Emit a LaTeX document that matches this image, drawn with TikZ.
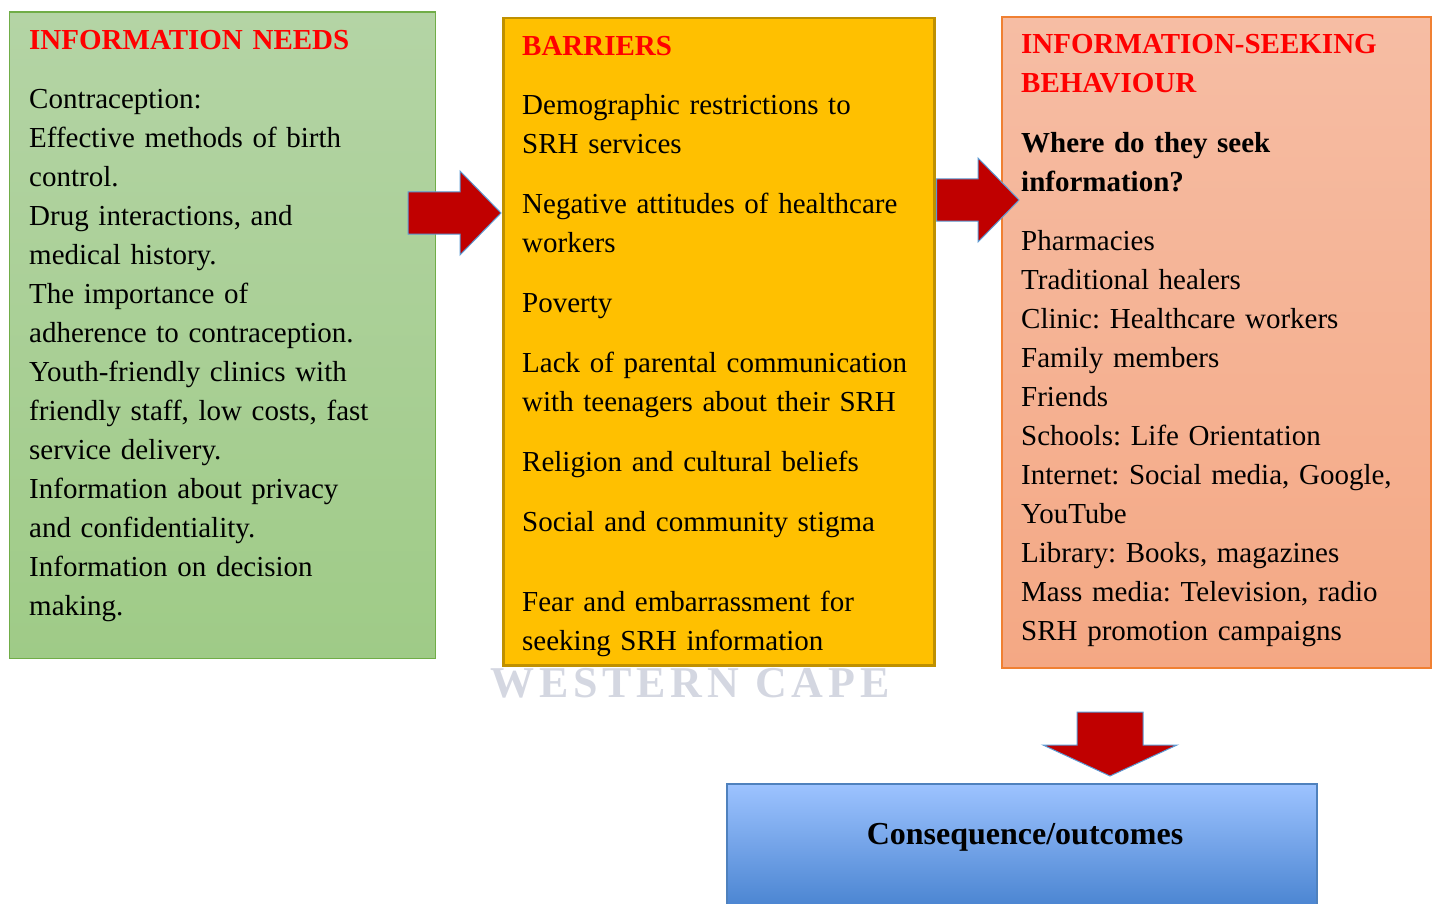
\documentclass[tikz,border=0pt]{standalone}
\usepackage{fontspec}
\setmainfont{Liberation Serif}
\newfontfamily\wmfont[LetterSpace=11]{Liberation Serif}
\usepackage{xcolor}
\usetikzlibrary{positioning, calc}
\definecolor{needgreen}{RGB}{180, 212, 165}
\definecolor{needgreendark}{RGB}{159, 203, 135}
\definecolor{needborder}{RGB}{112, 173, 71}
\definecolor{barrieryellow}{RGB}{255, 192, 0}
\definecolor{barrierborder}{RGB}{191, 144, 0}
\definecolor{seeksalmon}{RGB}{246, 189, 164}
\definecolor{seeksalmondark}{RGB}{244, 168, 132}
\definecolor{seekborder}{RGB}{240, 128, 50}
\definecolor{outcometop}{RGB}{157, 195, 255}
\definecolor{outcomebottom}{RGB}{63, 124, 203}
\definecolor{outcomeborder}{RGB}{79, 129, 189}
\definecolor{arrowred}{RGB}{192, 0, 0}
\definecolor{arrowedge}{RGB}{91, 155, 213}
\definecolor{headred}{RGB}{255, 0, 0}
\definecolor{watermark}{RGB}{212, 215, 225}

% block arrows: #1 = tail point, #2 = tip point
\newcommand{\rightblock}[2]{%
  \draw[blockarrow] ($(#1)+(0,-21)$) -- ($(#2)+(-41,-21)$) -- ($(#2)+(-41,-42)$) -- (#2)
    -- ($(#2)+(-41,42)$) -- ($(#2)+(-41,21)$) -- ($(#1)+(0,21)$) -- cycle;}
\newcommand{\downblock}[2]{%
  \draw[blockarrow] ($(#1)+(-33,0)$) -- ($(#2)+(-33,-31)$) -- ($(#2)+(-67,-31)$) -- (#2)
    -- ($(#2)+(67,-31)$) -- ($(#2)+(33,-31)$) -- ($(#1)+(33,0)$) -- cycle;}

\frenchspacing

\begin{document}
\begin{tikzpicture}[
    x=1pt, y=-1pt,
    box/.style={rectangle, anchor=north west, inner sep=0pt, line width=1.5pt},
    needbox/.style={box, draw=needborder, top color=needgreen, bottom color=needgreendark,
                    minimum width=426pt, minimum height=646pt},
    barrierbox/.style={box, draw=barrierborder, fill=barrieryellow, line width=2.5pt,
                       minimum width=431pt, minimum height=647pt},
    seekbox/.style={box, draw=seekborder, top color=seeksalmon, bottom color=seeksalmondark,
                    line width=2pt, minimum width=429pt, minimum height=651pt},
    outcomebox/.style={box, draw=outcomeborder, top color=outcometop, bottom color=outcomebottom,
                       minimum width=590pt, minimum height=140pt},
    bodytext/.style={anchor=base west, inner sep=0pt, text width=400pt, align=left,
                     font=\fontsize{29}{39}\selectfont},
    blockarrow/.style={fill=arrowred, draw=arrowedge, line width=1pt, line join=miter}
]
\useasboundingbox (0,0) rectangle (1434,904);

% Watermark
\node[anchor=base west, inner sep=0pt, text=watermark, font=\wmfont\bfseries\fontsize{44}{44}\selectfont]
    (wm) at (490,697) {WESTERN CAPE};

% Boxes
\node[needbox] (needs) at (8.5,11.5) {};
\node[barrierbox] (barriers) at (502,17) {};
\node[seekbox] (seeking) at (1001,16) {};
\node[outcomebox] (outcome) at (726,783) {};

% Arrows
\coordinate (tailA) at (408,213);
\coordinate (tipA) at ($(barriers.west |- tailA)+(-1,0)$);
\coordinate (tailB) at ($(barriers.east |- 0,200)+(1,0)$);
\coordinate (tipB) at ($(seeking.west |- tailB)+(18,0)$);
\coordinate (tailC) at (1110,712);
\coordinate (tipC) at ($(tailC |- outcome.north)+(0,-7)$);
\rightblock{tailA}{tipA}
\rightblock{tailB}{tipB}
\downblock{tailC}{tipC}

% Information needs
\node[bodytext] (needstext) at (29,49.5)
    {{\bfseries\color{headred}INFORMATION NEEDS}\\[20pt]
     Contraception:\\
     Effective methods of birth\\
     control.\\
     Drug interactions, and\\
     medical history.\\
     The importance of\\
     adherence to contraception.\\
     Youth-friendly clinics with\\
     friendly staff, low costs, fast\\
     service delivery.\\
     Information about privacy\\
     and confidentiality.\\
     Information on decision\\
     making.};

% Barriers
\node[bodytext] (barrierstext) at (522,55.5)
    {{\bfseries\color{headred}BARRIERS}\\[20pt]
     Demographic restrictions to\\
     SRH services\\[21pt]
     Negative attitudes of healthcare\\
     workers\\[21pt]
     Poverty\\[21pt]
     Lack of parental communication\\
     with teenagers about their SRH\\[21pt]
     Religion and cultural beliefs\\[21pt]
     Social and community stigma\\[41pt]
     Fear and embarrassment for\\
     seeking SRH information};

% Information-seeking behaviour
\node[bodytext] (seekingtext) at (1021,53.5)
    {{\bfseries\color{headred}INFORMATION-SEEKING\\BEHAVIOUR}\\[21pt]
     {\bfseries Where do they seek\\information?}\\[20pt]
     Pharmacies\\
     Traditional healers\\
     Clinic: Healthcare workers\\
     Family members\\
     Friends\\
     Schools: Life Orientation\\
     Internet: Social media, Google,\\
     YouTube\\
     Library: Books, magazines\\
     Mass media: Television, radio\\
     SRH promotion campaigns};

% Outcome
\node[anchor=base, inner sep=0pt, font=\bfseries\fontsize{32}{39}\selectfont]
    (outcometext) at (1025,844) {Consequence/outcomes};

\end{tikzpicture}
\end{document}
